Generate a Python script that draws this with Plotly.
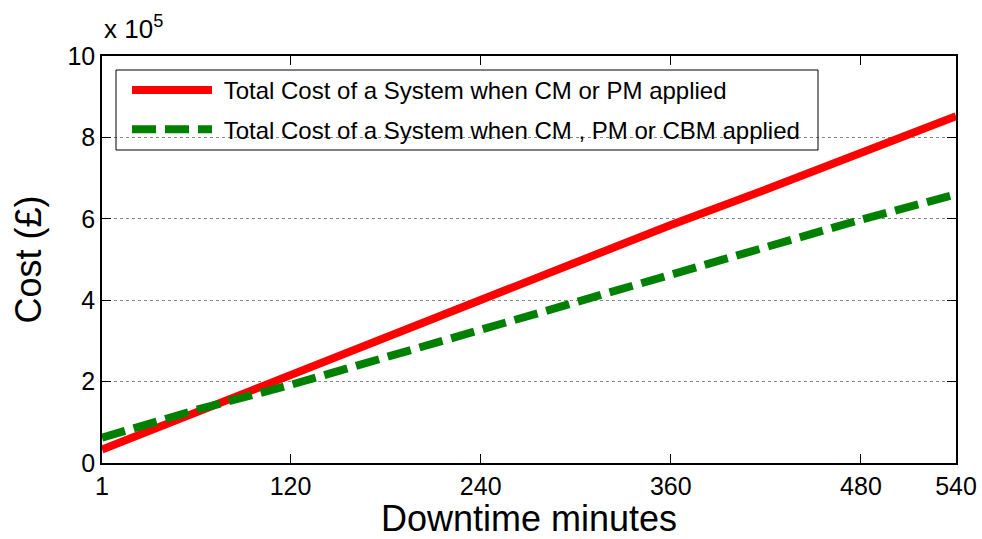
import plotly.graph_objects as go

# Downtime (minutes) and total system cost (GBP)
downtime = [1, 60, 120, 180, 240, 300, 360, 420, 480, 540]
cost_cm_pm = [33000, 124000, 217000, 308000, 400000, 495000, 585000, 672000, 760000, 852000]
cost_cm_pm_cbm = [62000, 130000, 192000, 260000, 325000, 398000, 462000, 530000, 598000, 660000]

x_ticks = [1, 120, 240, 360, 480, 540]
y_ticks = [0, 2, 4, 6, 8, 10]
SCALE = 1e5

FONT = "Liberation Sans, Arial, sans-serif"
NBSP = "\u00a0"

# plot area in pixels: x 102..956, y 56..463
PX_L, PX_R, PX_T, PX_B = 102, 956, 56, 463
W_PX, H_PX = PX_R - PX_L, PX_B - PX_T


def px_x(p):
    return (p - PX_L) / W_PX


def px_y(p):
    return (PX_B - p) / H_PX


fig = go.Figure()
fig.add_trace(go.Scatter(
    x=downtime, y=[c / SCALE for c in cost_cm_pm], mode="lines",
    name=NBSP + "Total Cost of a System when CM or PM applied",
    legendgroup="a",
    line=dict(color="#ff0000", width=8),
))
fig.add_trace(go.Scatter(
    x=downtime, y=[c / SCALE for c in cost_cm_pm_cbm], mode="lines",
    name=NBSP + "Total Cost of a System when CM , PM or CBM applied",
    legendgroup="b",
    line=dict(color="#008000", width=8, dash="24px,9px"),
))

fig.update_layout(
    width=982, height=539,
    margin=dict(l=PX_L, r=982 - PX_R, t=PX_T, b=539 - PX_B),
    paper_bgcolor="white", plot_bgcolor="white",
    font=dict(family=FONT, color="black", size=24),
    showlegend=True,
    legend=dict(
        x=px_x(127), y=px_y(68), xanchor="left", yanchor="top",
        borderwidth=0, bgcolor="rgba(0,0,0,0)",
        font=dict(size=24, family=FONT), itemwidth=80, tracegroupgap=5,
    ),
    xaxis=dict(
        range=[1, 540], tickvals=x_ticks, ticktext=[str(v) for v in x_ticks],
        showgrid=False, zeroline=False, automargin=False,
        showline=True, linecolor="black", linewidth=1.5, mirror="ticks",
        ticks="inside", ticklen=9, tickcolor="black",
        tickfont=dict(size=25),
        title=dict(text="Downtime minutes", font=dict(size=36), standoff=7),
    ),
    yaxis=dict(
        range=[0, 10], tickvals=y_ticks,
        showgrid=True, gridcolor="#888888", griddash="dot", gridwidth=1,
        zeroline=False, automargin=False,
        showline=True, linecolor="black", linewidth=1.5, mirror="ticks",
        ticks="inside", ticklen=9, tickcolor="black",
        tickfont=dict(size=25),
        title=dict(text="Cost (£)", font=dict(size=36), standoff=15),
    ),
    shapes=[dict(
        type="rect", xref="paper", yref="paper",
        x0=px_x(116), x1=px_x(818), y0=px_y(150), y1=px_y(70),
        line=dict(color="black", width=1), fillcolor="rgba(0,0,0,0)",
        layer="above",
    )],
    annotations=[dict(
        text="x 10<sup>5</sup>", xref="paper", yref="paper",
        x=px_x(102), y=px_y(46), xanchor="left", yanchor="bottom",
        showarrow=False, font=dict(size=26, family=FONT),
    )],
)

fig.write_html("out.html")
